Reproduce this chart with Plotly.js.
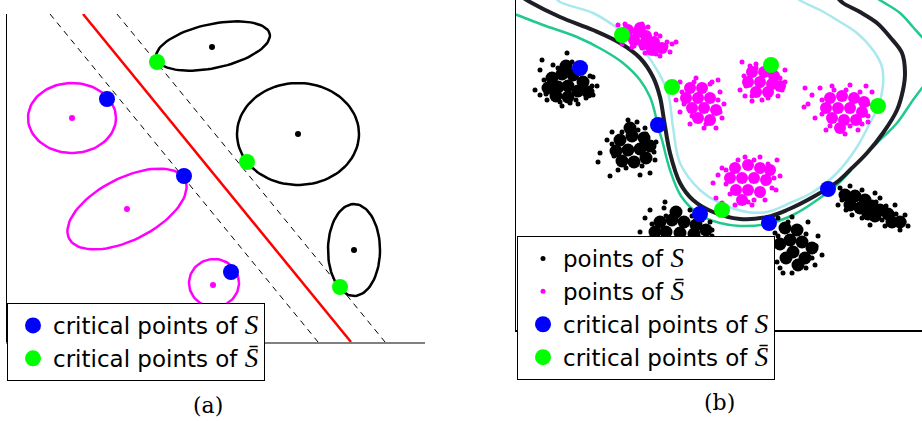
<!DOCTYPE html>
<html><head><meta charset="utf-8">
<script src="https://cdn.plot.ly/plotly-3.0.1.min.js"></script>
<style>html,body{margin:0;padding:0;background:#fff}#plot{width:922px;height:421px}</style>
</head><body><div id="plot"></div>
<script>
// ---------- Panel (a): linear separator with margins ----------
const sepRedX = [76, 344], sepRedY = [328, 0];
const marginLoX = [43, 311], marginLoY = [328, 0];
const marginHiX = [110, 378], marginHiY = [328, 0];
// class S (black) ellipses: centre, semi-axes, rotation (deg)
const ellSCx = [206, 291, 347], ellSCy = [296, 208, 92];
const ellSA = [58, 61, 26], ellSB = [22, 51, 46], ellSRot = [12, 0, 0];
// class S-bar (magenta) ellipses
const ellSbCx = [65, 120, 207], ellSbCy = [224, 133, 59];
const ellSbA = [44, 65, 25], ellSbB = [35, 31, 24], ellSbRot = [0, 27, 0];
const centreSX = [205, 291, 347], centreSY = [295, 208, 92];
const centreSbX = [65, 120, 206], centreSbY = [224, 133, 57];
const critASX = [100, 177, 224], critASY = [243, 166, 70];
const critASbX = [150, 240, 333], critASbY = [280, 180, 55];

// ---------- Panel (b): nonlinear boundary ----------
const boundaryX = [6,14,44,77,104,124,137,144,148,154,164,177,197,224,251,271,297,321,334,351,367,381,387,389,386,374,361,344,327,321];
const boundaryY = [333,328,313,300,287,272,253,233,210,177,147,130,118,111,113,120,133,148,160,177,197,220,240,257,277,293,307,318,327,333];
const innerX = [39,44,77,104,127,141,152,157,164,184,204,231,251,274,297,321,341,354,362,367,366,357,341,321,304,287,279];
const innerY = [333,328,317,300,280,260,237,203,167,140,127,118,118,127,138,157,183,207,223,245,263,280,297,310,320,328,333];
const outerX = [-11,1,27,61,87,107,124,134,139,142,146,154,165,184,204,224,251,277,304,324,341,361,381,397,406,416,420,416,406,397,384,367,359];
const outerY = [319,315,305,293,280,267,250,233,217,203,190,160,134,115,107,104,106,115,132,148,167,187,207,230,242,255,270,285,293,303,317,328,333];
// points of S (black clusters): dense cores and scattered fringes
const sCoreX = [36,46,57,67,32,42,52,62,40,52,50,72, 104,116,128,100,112,124,134,106,118,130,114, 144,156,168,180,150,164,178,190,160,139, 269,281,274,286,296,264,277,289,270,282, 329,339,349,344,356,364,359,372,376,334,352,384];
const sCoreY = [252,256,255,248,242,243,244,239,234,233,264,238, 190,194,192,179,180,181,184,169,168,172,202, 108,110,108,105,98,97,96,100,118,98, 102,100,90,88,82,86,78,72,72,65, 135,134,130,122,124,120,114,116,108,125,116,108];
const sFringeX = [51,26,19,31,46,77,77,24,81,62,37,69,24,54, 28,30,44,60,70,76,74,62,42,56,34,
  84,82,94,124,134,112,121,91,139,102,96,129, 96,98,110,126,138,140,122,106,130,
  129,134,148,174,124,194,196,170,144,149, 136,150,176,186,196,184,156,134,
  262,276,292,302,306,299,267,276,261,259,254, 262,258,290,300,296,290,264,272,
  324,334,346,364,379,389,392,384,369,354,336,322,359, 326,330,344,360,370,380,388,366,346];
const sFringeY = [277,270,240,230,224,235,253,260,244,226,265,264,235,227, 250,236,228,230,232,244,254,262,262,268,246,
  177,168,154,155,157,210,208,190,170,160,198,202, 186,174,162,164,178,188,200,198,196,
  112,120,122,120,98,108,94,87,86,128, 106,114,114,110,100,92,90,92,
  112,113,108,94,75,65,57,57,68,97,80, 94,84,96,84,72,62,62,108,
  142,144,140,132,125,115,104,100,104,105,115,125,137, 130,120,132,128,124,116,108,110,112];
// points of S-bar (magenta clusters)
const sbCoreX = [112,122,130,118,128,138,136,146,124, 174,186,170,182,194,176,188,200,182,194, 236,248,258,232,244,256,240,252,264, 314,326,338,348,310,322,334,346,316,328,340,324, 219,232,244,214,226,238,250,220,232,244,226,254];
const sbCoreY = [300,298,294,290,286,288,280,282,302, 242,242,232,232,232,222,222,220,212,210, 258,258,254,248,248,246,238,238,244, 232,234,232,228,222,222,222,218,212,210,210,202, 162,165,162,152,152,152,150,140,140,138,130,160];
const sbFringeX = [102,109,132,144,151,156,160,154,144,129,116,106, 108,114,126,140,150,140,126,118,
  164,180,196,204,208,206,200,188,174,164,160,202, 166,168,178,194,202,204,190,176,
  226,234,224,229,236,246,262,269,269,240, 228,230,240,254,264,266,252,236,
  304,316,334,350,356,357,352,342,329,310,299,292,289,296,288, 306,306,318,330,344,352,352,346,334,314,
  197,200,206,219,236,249,260,264,261,244,229,206,202, 210,210,214,222,238,252,258,256,238,232];
const sbFringeY = [305,306,303,294,288,286,288,278,274,277,283,286, 296,292,306,296,284,276,282,284,
  248,252,248,238,226,212,202,202,206,218,230,250, 238,226,248,246,230,218,206,214,
  268,264,240,234,229,230,234,248,260,266, 254,244,262,262,252,240,232,234,
  242,244,245,244,238,222,208,200,196,200,212,226,242,235,223, 230,216,240,240,238,226,214,206,204,204,
  147,132,127,125,125,130,140,154,170,173,173,162,155, 160,146,136,170,170,166,152,142,130,128];
const critBSX = [64,142,184,253,312], critBSY = [262,205,116,107,141];
const critBSbX = [106,156,255,362,206], critBSbY = [295,243,265,224,120];

const mathS = '<span style="font-family:\'Liberation Serif\';font-style:italic;font-size:27px">S</span>';
const mathSb = '<span style="font-family:\'Liberation Serif\';font-style:italic;font-size:27px">S\u0304</span>';
const labelS = 'critical points of ' + mathS;
const labelSb = 'critical points of ' + mathSb;
const labelPS = 'points of ' + mathS;
const labelPSb = 'points of ' + mathSb;

function ellipse(cx, cy, a, b, deg) {
  const xs = [], ys = [], t = deg * Math.PI / 180;
  for (let i = 0; i <= 90; i++) {
    const s = 2 * Math.PI * i / 90;
    xs.push(cx + a * Math.cos(s) * Math.cos(t) - b * Math.sin(s) * Math.sin(t));
    ys.push(cy + a * Math.cos(s) * Math.sin(t) + b * Math.sin(s) * Math.cos(t));
  }
  return {xs, ys};
}

const traces = [];
const A = {xaxis: 'x', yaxis: 'y', showlegend: false, hoverinfo: 'skip'};
const B = {xaxis: 'x2', yaxis: 'y2', showlegend: false, hoverinfo: 'skip'};

traces.push(Object.assign({x: marginLoX, y: marginLoY, mode: 'lines', line: {color: '#000', width: 1, dash: '6px,5px'}}, A));
traces.push(Object.assign({x: marginHiX, y: marginHiY, mode: 'lines', line: {color: '#000', width: 1, dash: '6px,5px'}}, A));
traces.push(Object.assign({x: sepRedX, y: sepRedY, mode: 'lines', line: {color: '#ff0000', width: 2.5}}, A));
ellSCx.forEach((c, i) => {
  const e = ellipse(c, ellSCy[i], ellSA[i], ellSB[i], ellSRot[i]);
  traces.push(Object.assign({x: e.xs, y: e.ys, mode: 'lines', line: {color: '#000', width: 2.5}}, A));
});
ellSbCx.forEach((c, i) => {
  const e = ellipse(c, ellSbCy[i], ellSbA[i], ellSbB[i], ellSbRot[i]);
  traces.push(Object.assign({x: e.xs, y: e.ys, mode: 'lines', line: {color: '#ff00ff', width: 2.5}}, A));
});
traces.push(Object.assign({x: centreSX, y: centreSY, mode: 'markers', marker: {color: '#000', size: 6}}, A));
traces.push(Object.assign({x: centreSbX, y: centreSbY, mode: 'markers', marker: {color: '#ff00ff', size: 6}}, A));
traces.push(Object.assign({}, A, {x: critASX, y: critASY, mode: 'markers', marker: {color: '#0000ff', size: 16}, showlegend: true, legend: 'legend', name: labelS}));
traces.push(Object.assign({}, A, {x: critASbX, y: critASbY, mode: 'markers', marker: {color: '#00ff00', size: 16}, showlegend: true, legend: 'legend', name: labelSb}));

// panel b
traces.push(Object.assign({x: innerX, y: innerY, mode: 'lines', line: {color: '#a8e8ee', width: 2.5, shape: 'spline'}}, B));
traces.push(Object.assign({x: outerX, y: outerY, mode: 'lines', line: {color: '#22c98c', width: 2.5, shape: 'spline'}}, B));
traces.push(Object.assign({x: boundaryX, y: boundaryY, mode: 'lines', line: {color: '#1e1e26', width: 4, shape: 'spline'}}, B));
traces.push(Object.assign({x: sCoreX, y: sCoreY, mode: 'markers', marker: {color: '#000', size: 13}}, B));
traces.push(Object.assign({x: sFringeX, y: sFringeY, mode: 'markers', marker: {color: '#000', size: 5}}, B));
traces.push(Object.assign({x: sbCoreX, y: sbCoreY, mode: 'markers', marker: {color: '#ff00ff', size: 12}}, B));
traces.push(Object.assign({x: sbFringeX, y: sbFringeY, mode: 'markers', marker: {color: '#ff00ff', size: 5}}, B));
traces.push(Object.assign({x: critBSX, y: critBSY, mode: 'markers', marker: {color: '#0000ff', size: 16}}, B));
traces.push(Object.assign({x: critBSbX, y: critBSbY, mode: 'markers', marker: {color: '#00ff00', size: 16}}, B));
// legend entries for panel b
traces.push(Object.assign({}, B, {x: [null], y: [null], mode: 'markers', marker: {color: '#000', size: 5}, showlegend: true, legend: 'legend2', name: labelPS}));
traces.push(Object.assign({}, B, {x: [null], y: [null], mode: 'markers', marker: {color: '#ff00ff', size: 5}, showlegend: true, legend: 'legend2', name: labelPSb}));
traces.push(Object.assign({}, B, {x: [null], y: [null], mode: 'markers', marker: {color: '#0000ff', size: 16}, showlegend: true, legend: 'legend2', name: labelS}));
traces.push(Object.assign({}, B, {x: [null], y: [null], mode: 'markers', marker: {color: '#00ff00', size: 16}, showlegend: true, legend: 'legend2', name: labelSb}));

const W = 922, H = 421;
const axBase = {showgrid: false, zeroline: false, showticklabels: false, ticks: '', fixedrange: true};
const legBase = {xanchor: 'left', yanchor: 'top', bgcolor: '#fff', bordercolor: '#000', borderwidth: 1,
  font: {family: 'DejaVu Sans', size: 23, color: '#000'}, tracegroupgap: 0, indentation: 5};

const layout = {
  width: W, height: H, margin: {l: 0, r: 0, t: 0, b: 0},
  paper_bgcolor: '#fff', plot_bgcolor: 'rgba(0,0,0,0)',
  xaxis: Object.assign({}, axBase, {domain: [7 / W, 425 / W], range: [0, 418], showline: true, linecolor: '#808080', linewidth: 1.5, anchor: 'y'}),
  yaxis: Object.assign({}, axBase, {domain: [(H - 342) / H, (H - 14) / H], range: [0, 328], showline: true, linecolor: '#000', linewidth: 1.5, anchor: 'x'}),
  xaxis2: Object.assign({}, axBase, {domain: [516 / W, 1], range: [0, 406], showline: true, linecolor: '#000', linewidth: 1.5, anchor: 'y2'}),
  yaxis2: Object.assign({}, axBase, {domain: [(H - 330) / H, 1], range: [0, 330], showline: true, linecolor: '#000', linewidth: 1.5, anchor: 'x2'}),
  legend: Object.assign({}, legBase, {x: 7 / W, y: (H - 303) / H}),
  legend2: Object.assign({}, legBase, {x: 517 / W, y: (H - 236) / H}),
  annotations: [
    {text: '(a)', xref: 'paper', yref: 'paper', x: 208 / W, y: (H - 405) / H, showarrow: false, xanchor: 'center', yanchor: 'middle', font: {family: 'DejaVu Serif', size: 22, color: '#000'}},
    {text: '(b)', xref: 'paper', yref: 'paper', x: 719 / W, y: (H - 402) / H, showarrow: false, xanchor: 'center', yanchor: 'middle', font: {family: 'DejaVu Serif', size: 22, color: '#000'}}
  ],
  hovermode: false
};
Plotly.newPlot('plot', traces, layout, {staticPlot: true, displayModeBar: false});
</script></body></html>
